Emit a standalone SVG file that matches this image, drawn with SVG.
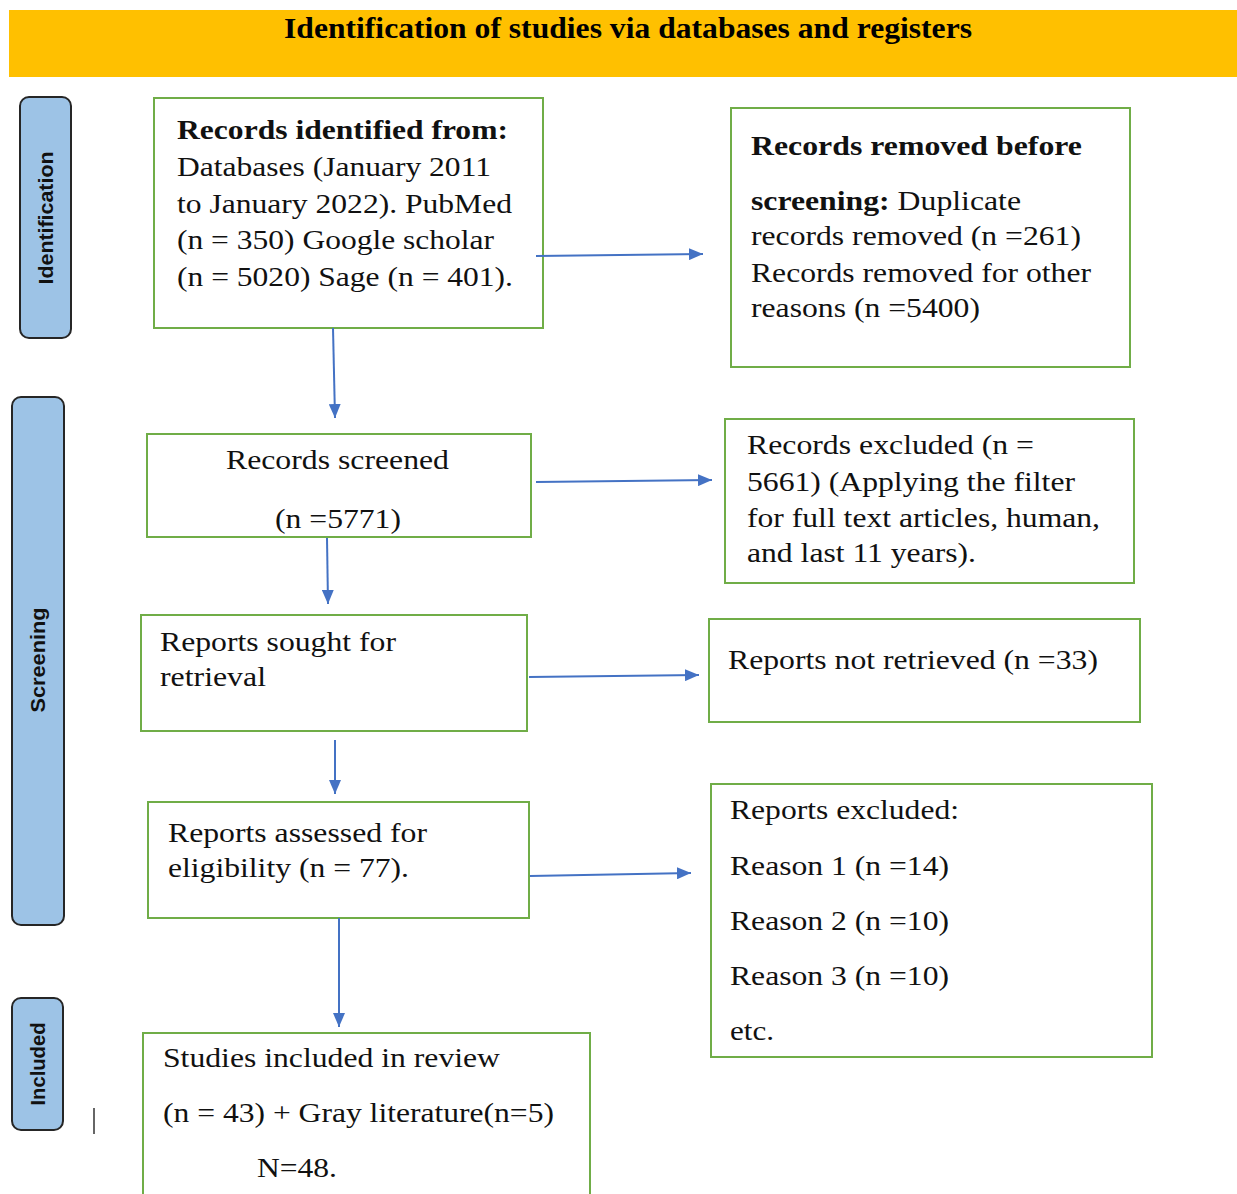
<svg xmlns="http://www.w3.org/2000/svg" width="1237" height="1194" viewBox="0 0 1237 1194">
<defs>
<style>
.bx{fill:#fff;stroke:#70AD47;stroke-width:2}
.side{fill:#9DC3E6;stroke:#262626;stroke-width:2}
.t{font-family:"Liberation Serif","Times New Roman",serif;font-size:28px;fill:#111}
.b{font-weight:bold}
.st{font-family:"Liberation Sans",Arial,sans-serif;font-size:21px;font-weight:bold;fill:#111}
.ttl{font-family:"Liberation Serif","Times New Roman",serif;font-size:29px;font-weight:bold;fill:#000}
.ar{stroke:#4472C4;stroke-width:2;fill:none;marker-end:url(#ah)}
</style>
<marker id="ah" markerUnits="userSpaceOnUse" markerWidth="14" markerHeight="12" refX="14" refY="6" orient="auto">
<path d="M0,0 L14,6 L0,12 z" fill="#4472C4"/>
</marker>
</defs>
<rect width="1237" height="1194" fill="#fff"/>

<g id="header">
<rect x="9" y="10" width="1228" height="67" fill="#FFC000"/>
<text class="ttl" x="284" y="38" textLength="688" lengthAdjust="spacingAndGlyphs">Identification of studies via databases and registers</text>
</g>

<g id="side-identification">
<rect class="side" x="20" y="97" width="51" height="241" rx="9"/>
<text class="st" transform="translate(53,218) rotate(-90)" x="0" y="0" text-anchor="middle" textLength="133" lengthAdjust="spacingAndGlyphs">Identification</text>
</g>
<g id="side-screening">
<rect class="side" x="12" y="397" width="52" height="528" rx="9"/>
<text class="st" transform="translate(45,660) rotate(-90)" x="0" y="0" text-anchor="middle" textLength="105" lengthAdjust="spacingAndGlyphs">Screening</text>
</g>
<g id="side-included">
<rect class="side" x="12" y="998" width="51" height="132" rx="9"/>
<text class="st" transform="translate(45,1064) rotate(-90)" x="0" y="0" text-anchor="middle" textLength="83" lengthAdjust="spacingAndGlyphs">Included</text>
</g>
<line x1="94" y1="1108" x2="94" y2="1134" stroke="#333" stroke-width="1.5"/>

<g id="records-identified">
<rect class="bx" x="154" y="98" width="389" height="230"/>
<text class="t b" x="177" y="139" textLength="331" lengthAdjust="spacingAndGlyphs">Records identified from:</text>
<text class="t" x="177" y="176" textLength="314" lengthAdjust="spacingAndGlyphs">Databases (January 2011</text>
<text class="t" x="177" y="213" textLength="335" lengthAdjust="spacingAndGlyphs">to January 2022). PubMed</text>
<text class="t" x="177" y="249" textLength="317" lengthAdjust="spacingAndGlyphs">(n = 350) Google scholar</text>
<text class="t" x="177" y="286" textLength="336" lengthAdjust="spacingAndGlyphs">(n = 5020) Sage (n = 401).</text>
</g>

<g id="records-removed">
<rect class="bx" x="731" y="108" width="399" height="259"/>
<text class="t b" x="751" y="155" textLength="331" lengthAdjust="spacingAndGlyphs">Records removed before</text>
<text class="t" x="751" y="210" textLength="270" lengthAdjust="spacingAndGlyphs"><tspan class="b">screening:</tspan> Duplicate</text>
<text class="t" x="751" y="245" textLength="330" lengthAdjust="spacingAndGlyphs">records removed (n =261)</text>
<text class="t" x="751" y="282" textLength="340" lengthAdjust="spacingAndGlyphs">Records removed for other</text>
<text class="t" x="751" y="317" textLength="229" lengthAdjust="spacingAndGlyphs">reasons (n =5400)</text>
</g>

<g id="records-screened">
<rect class="bx" x="147" y="434" width="384" height="103"/>
<text class="t" x="226" y="469" textLength="223" lengthAdjust="spacingAndGlyphs">Records screened</text>
<text class="t" x="275" y="528" textLength="126" lengthAdjust="spacingAndGlyphs">(n =5771)</text>
</g>

<g id="records-excluded">
<rect class="bx" x="725" y="419" width="409" height="164"/>
<text class="t" x="747" y="454" textLength="287" lengthAdjust="spacingAndGlyphs">Records excluded (n =</text>
<text class="t" x="747" y="491" textLength="328" lengthAdjust="spacingAndGlyphs">5661) (Applying the filter</text>
<text class="t" x="747" y="527" textLength="353" lengthAdjust="spacingAndGlyphs">for full text articles, human,</text>
<text class="t" x="747" y="562" textLength="229" lengthAdjust="spacingAndGlyphs">and last 11 years).</text>
</g>

<g id="reports-sought">
<rect class="bx" x="141" y="615" width="386" height="116"/>
<text class="t" x="160" y="651" textLength="236" lengthAdjust="spacingAndGlyphs">Reports sought for</text>
<text class="t" x="160" y="686" textLength="106" lengthAdjust="spacingAndGlyphs">retrieval</text>
</g>

<g id="reports-not-retrieved">
<rect class="bx" x="709" y="619" width="431" height="103"/>
<text class="t" x="728" y="669" textLength="370" lengthAdjust="spacingAndGlyphs">Reports not retrieved (n =33)</text>
</g>

<g id="reports-assessed">
<rect class="bx" x="148" y="802" width="381" height="116"/>
<text class="t" x="168" y="842" textLength="259" lengthAdjust="spacingAndGlyphs">Reports assessed for</text>
<text class="t" x="168" y="877" textLength="241" lengthAdjust="spacingAndGlyphs">eligibility (n = 77).</text>
</g>

<g id="reports-excluded">
<rect class="bx" x="711" y="784" width="441" height="273"/>
<text class="t" x="730" y="819" textLength="229" lengthAdjust="spacingAndGlyphs">Reports excluded:</text>
<text class="t" x="730" y="875" textLength="219" lengthAdjust="spacingAndGlyphs">Reason 1 (n =14)</text>
<text class="t" x="730" y="930" textLength="219" lengthAdjust="spacingAndGlyphs">Reason 2 (n =10)</text>
<text class="t" x="730" y="985" textLength="219" lengthAdjust="spacingAndGlyphs">Reason 3 (n =10)</text>
<text class="t" x="730" y="1040" textLength="44" lengthAdjust="spacingAndGlyphs">etc.</text>
</g>

<g id="studies-included">
<rect class="bx" x="143" y="1033" width="447" height="175"/>
<text class="t" x="163" y="1067" textLength="337" lengthAdjust="spacingAndGlyphs">Studies included in review</text>
<text class="t" x="163" y="1122" textLength="391" lengthAdjust="spacingAndGlyphs">(n = 43) + Gray literature(n=5)</text>
<text class="t" x="257" y="1177" textLength="80" lengthAdjust="spacingAndGlyphs">N=48.</text>
</g>

<g id="connectors">
<path class="ar" d="M536,256 L703,254"/>
<path class="ar" d="M333,328 L335,418"/>
<path class="ar" d="M536,482 L712,480"/>
<path class="ar" d="M327,538 L328,604"/>
<path class="ar" d="M529,677 L699,675"/>
<path class="ar" d="M335,740 L335,794"/>
<path class="ar" d="M530,876 L691,873"/>
<path class="ar" d="M339,918 L339,1027"/>
</g>
</svg>
